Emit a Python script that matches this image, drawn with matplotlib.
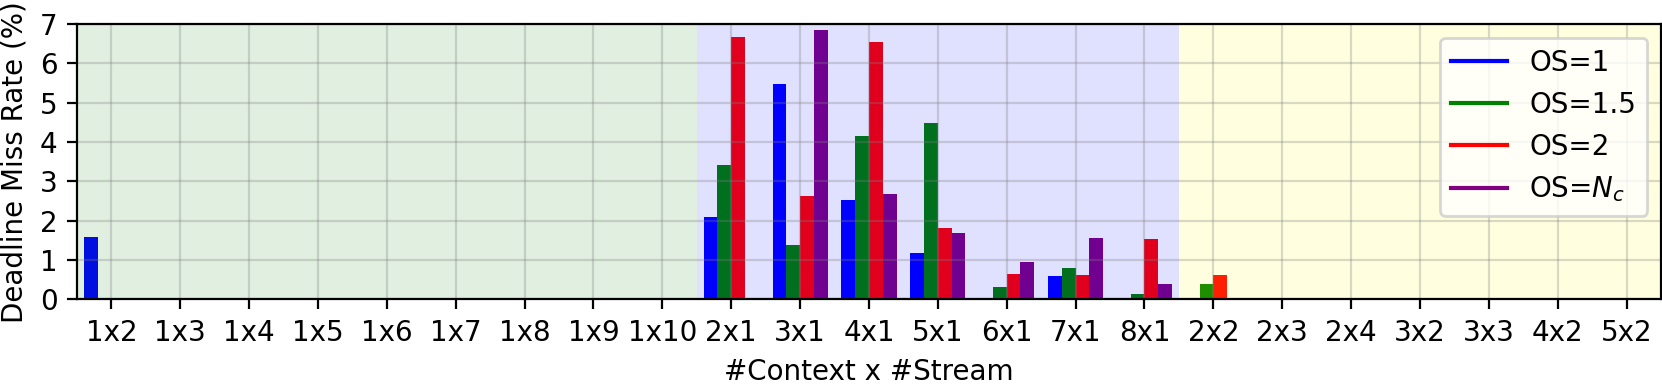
import numpy as np
import matplotlib
matplotlib.use("Agg")
import matplotlib.pyplot as plt
from matplotlib.lines import Line2D

configs = ["1x2", "1x3", "1x4", "1x5", "1x6", "1x7", "1x8", "1x9", "1x10",
           "2x1", "3x1", "4x1", "5x1", "6x1", "7x1", "8x1",
           "2x2", "2x3", "2x4", "3x2", "3x3", "4x2", "5x2"]

os_1 = [1.6, 0, 0, 0, 0, 0, 0, 0, 0,
        2.1, 5.47, 2.52, 1.19, 0, 0.59, 0,
        0, 0, 0, 0, 0, 0, 0]
os_15 = [0, 0, 0, 0, 0, 0, 0, 0, 0,
         3.43, 1.39, 4.16, 4.49, 0.31, 0.80, 0.14,
         0.40, 0, 0, 0, 0, 0, 0]
os_2 = [0, 0, 0, 0, 0, 0, 0, 0, 0,
        6.66, 2.62, 6.54, 1.81, 0.64, 0.63, 1.53,
        0.61, 0, 0, 0, 0, 0, 0]
os_nc = [0, 0, 0, 0, 0, 0, 0, 0, 0,
         0, 6.84, 2.67, 1.70, 0.95, 1.57, 0.40,
         0, 0, 0, 0, 0, 0, 0]

series = [("OS=1", os_1, "blue"), ("OS=1.5", os_15, "green"),
          ("OS=2", os_2, "red"), ("OS=$N_c$", os_nc, "purple")]

fig = plt.figure(figsize=(1662 / 200, 386 / 200), dpi=200)
ax = fig.add_axes([0.0463, 0.2241, 0.9531, 0.7137])

x = np.arange(len(configs))
w = 0.2
for i, (lab, vals, col) in enumerate(series):
    ax.bar(x + (i - 1.5) * w, vals, w, color=col, edgecolor="none")

# group shading: 1xN / Nx1 / NxM
ax.axvspan(-0.5, 8.5, color="green", alpha=0.12, lw=0)
ax.axvspan(8.5, 15.5, color="blue", alpha=0.12, lw=0)
ax.axvspan(15.5, len(configs) - 0.5, color="yellow", alpha=0.12, lw=0)

ax.set_xlim(-0.5, len(configs) - 0.5)
ax.set_ylim(0, 7)
ax.set_xticks(x)
ax.set_xticklabels(configs)
ax.set_yticks(range(8))
ax.grid(True, color="gray", alpha=0.3)
ax.set_xlabel("#Context x #Stream")
ax.set_ylabel("Deadline Miss Rate (%)")

handles = [Line2D([0], [0], color=c, lw=1.5) for _, _, c in series]
ax.legend(handles, [s[0] for s in series], loc="upper right")

fig.savefig("out.png", dpi=200)
